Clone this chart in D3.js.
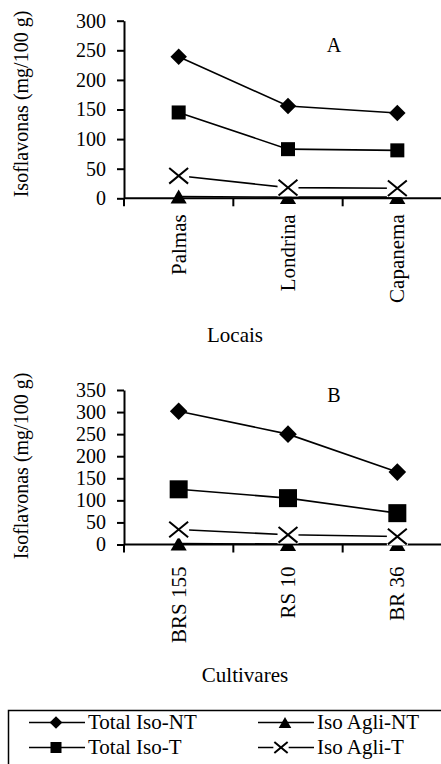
<!DOCTYPE html>
<html>
<head>
<meta charset="utf-8">
<script src="https://cdn.jsdelivr.net/npm/d3@7"></script>
<style>
  body { margin: 0; background: #fff; }
  text { font-family: "Liberation Serif", "Times New Roman", serif; fill: #000; }
</style>
</head>
<body>
<svg id="chart" width="441" height="764"></svg>
<script>
// panel A - locais
const categoriesA = ["Palmas", "Londrina", "Capanema"];
const totalNT_A = [239, 156, 144];
const totalT_A = [145, 83, 81];
const agliNT_A = [3, 2, 2];
const agliT_A = [38, 18, 17];
const yTicksA = [0, 50, 100, 150, 200, 250, 300];

// panel B - cultivares
const categoriesB = ["BRS 155", "RS 10", "BR 36"];
const totalNT_B = [302, 250, 164];
const totalT_B = [125, 105, 71];
const agliNT_B = [2, 1, 1];
const agliT_B = [34, 22, 18];
const yTicksB = [0, 50, 100, 150, 200, 250, 300, 350];

const seriesNames = ["Total Iso-NT", "Total Iso-T", "Iso Agli-NT", "Iso Agli-T"];
const seriesSymbols = ["diamond", "square", "triangle", "cross"];

const svg = d3.select("#chart");

// marker drawing, sz = base size in px
const drawMarker = (g, type, cx, cy, sz) => {
  if (type === "diamond") {
    const h = sz * 0.55;
    g.append("path")
      .attr("d", `M${cx},${cy - h}L${cx + h},${cy}L${cx},${cy + h}L${cx - h},${cy}Z`)
      .attr("fill", "#000");
  } else if (type === "square") {
    g.append("rect")
      .attr("x", cx - sz / 2).attr("y", cy - sz / 2)
      .attr("width", sz).attr("height", sz)
      .attr("fill", "#000");
  } else if (type === "triangle") {
    const w = sz * 1.15, h = sz;
    g.append("path")
      .attr("d", `M${cx},${cy - h / 2}L${cx + w / 2},${cy + h / 2}L${cx - w / 2},${cy + h / 2}Z`)
      .attr("fill", "#000");
  } else {
    // excel style x marker: white box behind
    const w = sz * 0.7, h = sz * 0.58;
    g.append("rect")
      .attr("x", cx - w - 1).attr("y", cy - h - 1)
      .attr("width", w * 2 + 2).attr("height", h * 2 + 2)
      .attr("fill", "#fff");
    g.append("path")
      .attr("d", `M${cx - w},${cy - h}L${cx + w},${cy + h}M${cx - w},${cy + h}L${cx + w},${cy - h}`)
      .attr("stroke", "#000").attr("stroke-width", 2).attr("fill", "none");
  }
};

const drawPanel = ({ categories, series, yTicks, yTop, yBottom, letter, letterY,
  xTitle, xTitleX, xTitleY, yTitleY, labelGap, sizes }) => {
  const x = d3.scaleBand().domain(categories).range([124, 452]).padding(0);
  const y = d3.scaleLinear().domain([0, d3.max(yTicks)]).range([yBottom, yTop]);
  const g = svg.append("g");

  // y axis
  const yAxis = g.append("g")
    .attr("transform", "translate(124,0)")
    .call(d3.axisLeft(y).tickValues(yTicks).tickSize(7).tickPadding(11).tickSizeOuter(0));
  yAxis.select(".domain").attr("stroke-width", 2);
  yAxis.selectAll(".tick line").attr("stroke-width", 2);
  yAxis.selectAll("text").attr("font-size", 20).attr("font-family", "Liberation Serif").attr("fill", "#000");

  // x axis line + boundary ticks
  g.append("line")
    .attr("x1", 124).attr("x2", 452)
    .attr("y1", y(0)).attr("y2", y(0))
    .attr("stroke", "#000").attr("stroke-width", 2);
  const bounds = categories.map((c) => x(c)).concat([x(categories[categories.length - 1]) + x.bandwidth()]);
  g.selectAll(".xtick")
    .data(bounds)
    .enter()
    .append("line")
    .attr("class", "xtick")
    .attr("x1", (d) => d).attr("x2", (d) => d)
    .attr("y1", y(0)).attr("y2", y(0) + 8)
    .attr("stroke", "#000").attr("stroke-width", 2);

  // category labels, rotated
  g.selectAll(".cat")
    .data(categories)
    .enter()
    .append("text")
    .attr("class", "cat")
    .attr("transform", (d) => `translate(${x(d) + x.bandwidth() / 2 + 7},${y(0) + labelGap}) rotate(-90)`)
    .attr("text-anchor", "end")
    .attr("font-size", 21)
    .text((d) => d);

  // lines first, then markers
  const cx = (i) => x(categories[i]) + x.bandwidth() / 2;
  const line = d3.line().x((d, i) => cx(i)).y((d) => y(d));
  series.forEach((vals) => {
    g.append("path")
      .attr("d", line(vals))
      .attr("fill", "none")
      .attr("stroke", "#000")
      .attr("stroke-width", 1.6);
  });
  series.forEach((vals, s) => {
    const mg = g.append("g");
    vals.forEach((v, i) => drawMarker(mg, seriesSymbols[s], cx(i), y(v), sizes[s]));
  });

  // texts
  g.append("text").attr("x", 334).attr("y", letterY)
    .attr("text-anchor", "middle").attr("font-size", 20).text(letter);
  g.append("text").attr("x", xTitleX).attr("y", xTitleY)
    .attr("text-anchor", "middle").attr("font-size", 21).text(xTitle);
  g.append("text")
    .attr("transform", `translate(28,${yTitleY}) rotate(-90)`)
    .attr("text-anchor", "middle").attr("font-size", 20)
    .text("Isoflavonas (mg/100 g)");
};

drawPanel({
  categories: categoriesA,
  series: [totalNT_A, totalT_A, agliNT_A, agliT_A],
  yTicks: yTicksA, yTop: 20.7, yBottom: 198.3,
  letter: "A", letterY: 52,
  xTitle: "Locais", xTitleX: 235, xTitleY: 342,
  yTitleY: 104, labelGap: 16,
  sizes: [15, 14, 14, 13.5],
});

drawPanel({
  categories: categoriesB,
  series: [totalNT_B, totalT_B, agliNT_B, agliT_B],
  yTicks: yTicksB, yTop: 390, yBottom: 544.5,
  letter: "B", letterY: 402,
  xTitle: "Cultivares", xTitleX: 245, xTitleY: 682,
  yTitleY: 466, labelGap: 22,
  sizes: [16, 18, 14, 13.5],
});

// legend
const legend = svg.append("g");
legend.append("rect")
  .attr("x", 8.5).attr("y", 710.5)
  .attr("width", 440).attr("height", 70)
  .attr("fill", "none").attr("stroke", "#000").attr("stroke-width", 1.5);

const legendCols = [29, 258];
const legendRows = [722.5, 747.5];
const legendItems = d3.range(4).map((i) => ({
  name: seriesNames[i],
  sym: seriesSymbols[i],
  col: i < 2 ? 0 : 1,
  row: i % 2,
}));
legendItems.forEach((it) => {
  const x0 = legendCols[it.col];
  const ly = legendRows[it.row];
  legend.append("line")
    .attr("x1", x0).attr("x2", x0 + 56)
    .attr("y1", ly).attr("y2", ly)
    .attr("stroke", "#000").attr("stroke-width", 1.6);
  const mx = it.sym === "cross" ? x0 + 23 : x0 + 27;
  const size = it.sym === "cross" ? 9.5 : (it.sym === "diamond" ? 21 / 2 * 1.1 : 11);
  drawMarker(legend, it.sym, mx, ly, size);
  legend.append("text")
    .attr("x", x0 + 59).attr("y", ly + 6.5)
    .attr("font-size", 21)
    .text(it.name);
});
</script>
</body>
</html>
